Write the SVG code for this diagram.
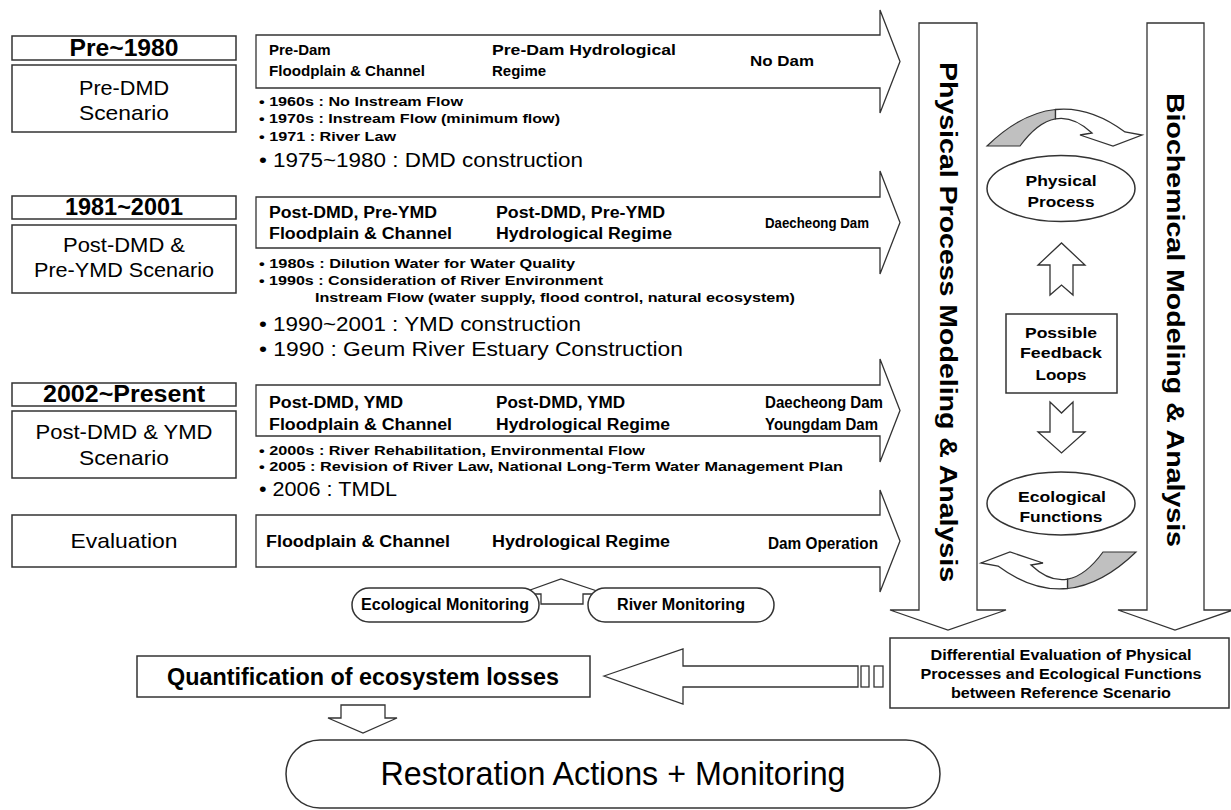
<svg xmlns="http://www.w3.org/2000/svg" width="1231" height="810" viewBox="0 0 1231 810">
<style>
.bx{fill:#fff;stroke:#333;stroke-width:1.5}
.sh{fill:#fff;stroke:#333;stroke-width:1.3}
.gr{fill:#c0c0c0;stroke:#333;stroke-width:1.2}
text{font-family:"Liberation Sans",Arial,sans-serif;fill:#000}
.b{font-weight:bold}
.t15{font-size:15px;font-weight:bold}
.t16{font-size:16px;font-weight:bold}
.t13{font-size:13px;font-weight:bold}
.t19{font-size:20px}
.c{text-anchor:middle}
</style>
<rect width="1231" height="810" fill="#fff"/>

<g id="connectors">
  <path class="sh" d="M256,35 H880 V10 L900,61.5 L880,113 V88 H256 Z"/>
  <path class="sh" d="M256,197 H880 V171 L900,222.5 L880,274 V248 H256 Z"/>
  <path class="sh" d="M256,385 H880 V359 L900,410.5 L880,462 V436 H256 Z"/>
  <path class="sh" d="M256,515 H880 V490 L900,541 L880,592 V567 H256 Z"/>
  <path class="sh" d="M919,23 H977 V610 H1006 L948,630 L890,610 H919 Z"/>
  <path class="sh" d="M1147,23 H1204 V610 H1233 L1175,630 L1118,610 H1147 Z"/>
  <path class="sh" d="M1050,295 V265 H1038 L1061.5,243 L1085,265 H1073 V295 L1061.5,285 Z"/>
  <path class="sh" d="M1050,402 L1061.5,413 L1073,402 V432 H1085 L1061.5,453 L1038,432 H1050 Z"/>
  <path class="gr" d="M987,146 Q1021,113 1055.5,109.5 L1055.5,118.8 Q1037.5,122 1020,146 Z"/>
  <path class="sh" d="M1055.5,109.5 Q1090,106 1125,132 L1142,135 L1113,146 L1080,135 L1092,133 Q1073.5,115.5 1055.5,118.8 Z"/>
  <g transform="rotate(180 1061.5 349)">
    <path class="gr" d="M987,146 Q1021,113 1055.5,109.5 L1055.5,118.8 Q1037.5,122 1020,146 Z"/>
    <path class="sh" d="M1055.5,109.5 Q1090,106 1125,132 L1142,135 L1113,146 L1080,135 L1092,133 Q1073.5,115.5 1055.5,118.8 Z"/>
  </g>
  <path class="sh" d="M541,604 V594 H519 L561,579 L606,594 H583 V604 Z"/>
  <path class="sh" d="M604,676 L683,649 V666 H858 V687 H683 V704 Z"/>
  <rect class="sh" x="861" y="666" width="8" height="21"/>
  <rect class="sh" x="874" y="666" width="9" height="21"/>
  <path class="sh" d="M341,705 H385 V718 H397 L363,733 L328,718 H341 Z"/>
</g>

<g id="pre1980">
  <rect class="bx" x="12" y="36" width="224" height="24"/>
  <text class="b c" x="124" y="56" font-size="23" textLength="109" lengthAdjust="spacingAndGlyphs">Pre~1980</text>
</g>
<g id="preDMD">
  <rect class="bx" x="12" y="65" width="224" height="67"/>
  <text class="c" x="124" y="95" font-size="21" textLength="90" lengthAdjust="spacingAndGlyphs">Pre-DMD</text>
  <text class="c" x="124" y="120" font-size="21" textLength="90" lengthAdjust="spacingAndGlyphs">Scenario</text>
</g>
<g id="y1981">
  <rect class="bx" x="12" y="196" width="224" height="23"/>
  <text class="b c" x="124" y="215" font-size="23" textLength="118" lengthAdjust="spacingAndGlyphs">1981~2001</text>
</g>
<g id="postDMDpreYMD">
  <rect class="bx" x="12" y="225" width="224" height="68"/>
  <text class="c" x="124" y="252" font-size="21" textLength="122" lengthAdjust="spacingAndGlyphs">Post-DMD &amp;</text>
  <text class="c" x="124" y="277" font-size="21" textLength="180" lengthAdjust="spacingAndGlyphs">Pre-YMD Scenario</text>
</g>
<g id="y2002">
  <rect class="bx" x="12" y="383" width="224" height="23"/>
  <text class="b c" x="124" y="402" font-size="23" textLength="162" lengthAdjust="spacingAndGlyphs">2002~Present</text>
</g>
<g id="postDMDYMD">
  <rect class="bx" x="12" y="411" width="224" height="67"/>
  <text class="c" x="124" y="439" font-size="21" textLength="177" lengthAdjust="spacingAndGlyphs">Post-DMD &amp; YMD</text>
  <text class="c" x="124" y="465" font-size="21" textLength="90" lengthAdjust="spacingAndGlyphs">Scenario</text>
</g>
<g id="evaluation">
  <rect class="bx" x="12" y="515" width="224" height="52"/>
  <text class="c" x="124" y="548" font-size="21" textLength="107" lengthAdjust="spacingAndGlyphs">Evaluation</text>
</g>

<g id="arrow1-labels">
  <text class="t15" x="269" y="55">Pre-Dam</text>
  <text class="t15" x="269" y="76" textLength="156" lengthAdjust="spacingAndGlyphs">Floodplain &amp; Channel</text>
  <text class="t15" x="492" y="55" textLength="184" lengthAdjust="spacingAndGlyphs">Pre-Dam Hydrological</text>
  <text class="t15" x="492" y="76">Regime</text>
  <text class="t15" x="750" y="66" textLength="64" lengthAdjust="spacingAndGlyphs">No Dam</text>
  <text class="t13" x="259" y="105.5" textLength="204" lengthAdjust="spacingAndGlyphs">• 1960s : No Instream Flow</text>
  <text class="t13" x="259" y="122.5" textLength="301" lengthAdjust="spacingAndGlyphs">• 1970s : Instream Flow (minimum flow)</text>
  <text class="t13" x="259" y="140.5" textLength="137" lengthAdjust="spacingAndGlyphs">• 1971 : River Law</text>
  <text class="t19" x="259" y="167" textLength="324" lengthAdjust="spacingAndGlyphs">• 1975~1980 : DMD construction</text>
</g>
<g id="arrow2-labels">
  <text class="t16" x="269" y="217.5" textLength="168" lengthAdjust="spacingAndGlyphs">Post-DMD, Pre-YMD</text>
  <text class="t16" x="269" y="238.5" textLength="183" lengthAdjust="spacingAndGlyphs">Floodplain &amp; Channel</text>
  <text class="t16" x="496" y="217.5" textLength="169" lengthAdjust="spacingAndGlyphs">Post-DMD, Pre-YMD</text>
  <text class="t16" x="496" y="238.5" textLength="176" lengthAdjust="spacingAndGlyphs">Hydrological Regime</text>
  <text class="b" x="765" y="227.5" font-size="15" textLength="104" lengthAdjust="spacingAndGlyphs">Daecheong Dam</text>
  <text class="t13" x="259" y="267.5" textLength="316" lengthAdjust="spacingAndGlyphs">• 1980s : Dilution Water for Water Quality</text>
  <text class="t13" x="259" y="284.5" textLength="344" lengthAdjust="spacingAndGlyphs">• 1990s : Consideration of River Environment</text>
  <text class="t13" x="315" y="301.5" textLength="480" lengthAdjust="spacingAndGlyphs">Instream Flow (water supply, flood control, natural ecosystem)</text>
  <text class="t19" x="259" y="331" textLength="322" lengthAdjust="spacingAndGlyphs">• 1990~2001 : YMD construction</text>
  <text class="t19" x="259" y="356" textLength="424" lengthAdjust="spacingAndGlyphs">• 1990 : Geum River Estuary Construction</text>
</g>
<g id="arrow3-labels">
  <text class="t16" x="269" y="407.5" textLength="134" lengthAdjust="spacingAndGlyphs">Post-DMD, YMD</text>
  <text class="t16" x="269" y="429.5" textLength="183" lengthAdjust="spacingAndGlyphs">Floodplain &amp; Channel</text>
  <text class="t16" x="496" y="407.5" textLength="129" lengthAdjust="spacingAndGlyphs">Post-DMD, YMD</text>
  <text class="t16" x="496" y="429.5" textLength="174" lengthAdjust="spacingAndGlyphs">Hydrological Regime</text>
  <text class="t16" x="765" y="407.5" textLength="118" lengthAdjust="spacingAndGlyphs">Daecheong Dam</text>
  <text class="t16" x="765" y="429.5" textLength="113" lengthAdjust="spacingAndGlyphs">Youngdam Dam</text>
  <text class="t13" x="259" y="454.5" textLength="386" lengthAdjust="spacingAndGlyphs">• 2000s : River Rehabilitation, Environmental Flow</text>
  <text class="t13" x="259" y="470.5" textLength="584" lengthAdjust="spacingAndGlyphs">• 2005 : Revision of River Law, National Long-Term Water Management Plan</text>
  <text class="t19" x="259" y="496" textLength="138" lengthAdjust="spacingAndGlyphs">• 2006 : TMDL</text>
</g>
<g id="arrow4-labels">
  <text class="t16" x="266" y="546.5" textLength="184" lengthAdjust="spacingAndGlyphs">Floodplain &amp; Channel</text>
  <text class="t16" x="492" y="546.5" textLength="178" lengthAdjust="spacingAndGlyphs">Hydrological Regime</text>
  <text class="t16" x="768" y="548.5" textLength="110" lengthAdjust="spacingAndGlyphs">Dam Operation</text>
</g>

<g id="physical-modeling">
  <text class="b c" transform="translate(948 322) rotate(90)" y="8" font-size="23" textLength="520" lengthAdjust="spacingAndGlyphs">Physical Process Modeling &amp; Analysis</text>
</g>
<g id="biochemical-modeling">
  <text class="b c" transform="translate(1175 320) rotate(90)" y="8" font-size="23" textLength="454" lengthAdjust="spacingAndGlyphs">Biochemical Modeling &amp; Analysis</text>
</g>
<g id="physical-process">
  <ellipse class="bx" cx="1061" cy="188.5" rx="74" ry="33"/>
  <text class="t15 c" x="1061" y="186" textLength="71" lengthAdjust="spacingAndGlyphs">Physical</text>
  <text class="t15 c" x="1061" y="207" textLength="67" lengthAdjust="spacingAndGlyphs">Process</text>
</g>
<g id="feedback">
  <rect class="bx" x="1006" y="314" width="111" height="79"/>
  <text class="t15 c" x="1061" y="338" textLength="72" lengthAdjust="spacingAndGlyphs">Possible</text>
  <text class="t15 c" x="1061" y="358" textLength="82" lengthAdjust="spacingAndGlyphs">Feedback</text>
  <text class="t15 c" x="1061" y="380" textLength="51" lengthAdjust="spacingAndGlyphs">Loops</text>
</g>
<g id="ecological-functions">
  <ellipse class="bx" cx="1061" cy="503.5" rx="74" ry="31.5"/>
  <text class="t15 c" x="1062" y="502" textLength="88" lengthAdjust="spacingAndGlyphs">Ecological</text>
  <text class="t15 c" x="1061" y="522" textLength="83" lengthAdjust="spacingAndGlyphs">Functions</text>
</g>
<g id="differential">
  <rect class="bx" x="890" y="638" width="339" height="70"/>
  <text class="b c" x="1061" y="660" font-size="14" textLength="261" lengthAdjust="spacingAndGlyphs">Differential Evaluation of Physical</text>
  <text class="b c" x="1061" y="679" font-size="14" textLength="281" lengthAdjust="spacingAndGlyphs">Processes and Ecological Functions</text>
  <text class="b c" x="1061" y="698" font-size="14" textLength="220" lengthAdjust="spacingAndGlyphs">between Reference Scenario</text>
</g>

<g id="ecological-monitoring">
  <rect class="bx" x="352" y="588" width="187" height="34" rx="17"/>
  <text class="b c" x="445" y="610" font-size="16" textLength="168" lengthAdjust="spacingAndGlyphs">Ecological Monitoring</text>
</g>
<g id="river-monitoring">
  <rect class="bx" x="588" y="588" width="186" height="34" rx="17"/>
  <text class="b c" x="681" y="610" font-size="16" textLength="128" lengthAdjust="spacingAndGlyphs">River Monitoring</text>
</g>
<g id="quantification">
  <rect class="bx" x="137" y="656" width="453" height="41"/>
  <text class="b c" x="363" y="685" font-size="24" textLength="392" lengthAdjust="spacingAndGlyphs">Quantification of ecosystem losses</text>
</g>
<g id="restoration">
  <rect class="bx" x="286" y="740" width="654" height="68" rx="34"/>
  <text class="c" x="613" y="785" font-size="34" textLength="465" lengthAdjust="spacingAndGlyphs">Restoration Actions + Monitoring</text>
</g>
</svg>
